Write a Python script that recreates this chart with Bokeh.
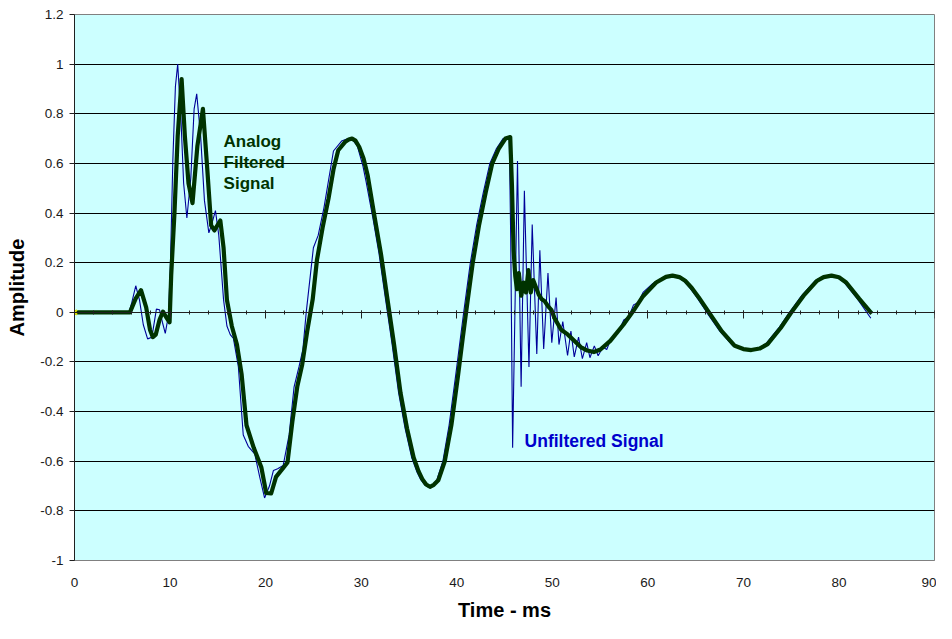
from bokeh.plotting import figure
from bokeh.models import Range1d, LinearAxis, SingleIntervalTicker, FixedTicker
from bokeh.core.properties import value
from bokeh.embed import file_html
from bokeh.resources import INLINE

# ---------------- data ----------------
# Analog filtered signal (thick green)
filt_t = [0, 5.8, 6.4, 6.96, 7.5, 7.9, 8.2, 8.5, 8.9, 9.26, 9.6, 9.95, 10.12, 10.46, 10.8,
          11.21, 11.55, 11.93, 12.35, 12.86, 13.44, 13.89, 14.3, 14.64, 15.26, 15.6, 15.95,
          16.46, 17.0, 17.49, 18.0, 18.76, 19.55, 20.06, 20.58, 21.09, 21.78, 22.29, 22.8,
          23.32, 23.83, 24.35, 24.93, 25.37, 25.96, 26.58, 27.1, 27.6, 28.3, 28.7, 29.05,
          29.4, 29.8, 30.25, 30.69, 31.38, 32.07, 32.75, 33.44, 34.12, 34.8, 35.49, 36.0,
          36.4, 36.8, 37.2, 37.6, 38.07, 38.75, 39.44, 40.12, 40.64, 40.98, 41.67, 42.35,
          43.04, 43.72, 44.41, 45.1, 45.6, 45.78, 45.95, 46.13, 46.3, 46.5, 46.75, 47.0,
          47.25, 47.5, 47.75, 48.0, 48.3, 48.6, 48.87, 49.2, 49.55, 49.9, 50.24, 50.93,
          51.61, 52.3, 52.98, 53.67, 54.35, 55.04, 56.07, 57.44, 58.47, 59.5, 60.87, 61.9,
          62.58, 63.3, 63.95, 64.6, 65.33, 66.36, 67.73, 69.1, 70.0, 70.82, 71.7, 72.53,
          73.9, 74.93, 76.3, 77.67, 78.4, 79.22, 80.0, 80.76, 82.13, 83.44]
filt_v = [0, 0, 0.055, 0.089, 0.02, -0.07, -0.10, -0.09, -0.03, 0.003, -0.02, -0.04, 0.15,
          0.40, 0.71, 0.94, 0.71, 0.52, 0.44, 0.67, 0.82, 0.58, 0.35, 0.33, 0.37, 0.26, 0.05,
          -0.055, -0.13, -0.25, -0.455, -0.546, -0.624, -0.728, -0.73, -0.663, -0.63, -0.605,
          -0.44, -0.298, -0.21, -0.077, 0.053, 0.21, 0.34, 0.458, 0.575, 0.653, 0.686, 0.696,
          0.70, 0.692, 0.666, 0.62, 0.55, 0.39, 0.236, 0.053, -0.129, -0.325, -0.468, -0.585,
          -0.64, -0.672, -0.694, -0.703, -0.695, -0.677, -0.60, -0.455, -0.26, -0.10, 0.0,
          0.198, 0.354, 0.484, 0.60, 0.66, 0.70, 0.706, 0.51, 0.25, 0.145, 0.093, 0.158,
          0.067, 0.12, 0.08, 0.17, 0.08, 0.13, 0.10, 0.07, 0.054, 0.045, 0.025, 0.01,
          -0.024, -0.07, -0.089, -0.115, -0.14, -0.154, -0.16, -0.15, -0.115, -0.05, 0.005,
          0.065, 0.12, 0.143, 0.148, 0.142, 0.126, 0.098, 0.06, 0.002, -0.076, -0.135,
          -0.148, -0.152, -0.146, -0.128, -0.063, -0.005, 0.067, 0.126, 0.142, 0.148, 0.141,
          0.12, 0.054, -0.005]

# Unfiltered signal (thin blue)
raw_t = [0, 5.7, 6.0, 6.41, 6.8, 7.2, 7.65, 8.1, 8.57, 8.9, 9.2, 9.5, 9.84, 10.05, 10.29,
         10.56, 10.8, 11.14, 11.42, 11.76, 12.17, 12.52, 12.79, 13.2, 13.6, 14.06, 14.4,
         14.75, 15.1, 15.6, 15.95, 16.3, 16.63, 17.15, 17.66, 18.18, 18.86, 19.38, 19.89,
         20.4, 20.82, 21.26, 21.84, 22.46, 22.98, 23.49, 23.9, 24.25, 25.0, 25.5, 26.1, 27.1,
         27.95, 28.5, 29.0, 29.6, 30.18, 30.5, 31.18, 31.87, 32.55, 33.24, 33.92, 34.6,
         35.29, 35.8, 36.2, 36.65, 37.05, 37.45, 37.9, 38.55, 39.2, 39.87, 40.4, 40.73,
         41.42, 42.1, 42.79, 43.47, 44.16, 44.85, 45.5, 45.65, 45.85, 46.36, 46.74, 47.08,
         47.56, 47.9, 48.38, 48.7, 49.1, 49.55, 49.95, 50.4, 50.7, 51.1, 51.6, 51.95, 52.3,
         52.75, 53.15, 53.6, 53.94, 54.4, 54.8, 55.3, 55.7, 56.1, 56.5, 57.0, 57.5, 58.0,
         58.5, 59.0, 59.5, 60.5, 61.7, 62.4, 63.1, 63.75, 64.4, 65.13, 66.16, 67.53, 68.9,
         69.8, 70.62, 71.5, 72.33, 73.7, 74.73, 76.1, 77.47, 78.2, 79.0, 79.8, 80.56, 81.93,
         83.34]
raw_v = [0, 0, 0.04, 0.107, 0.05, -0.05, -0.107, -0.10, 0.013, 0.01, -0.04, -0.085, -0.01,
         0.21, 0.61, 0.91, 1.0, 0.78, 0.52, 0.38, 0.54, 0.82, 0.88, 0.71, 0.45, 0.32, 0.36,
         0.41, 0.31, 0.05, -0.055, -0.09, -0.105, -0.22, -0.494, -0.54, -0.57, -0.663,
         -0.748, -0.70, -0.637, -0.63, -0.617, -0.494, -0.30, -0.22, -0.15, 0.0, 0.26, 0.31,
         0.42, 0.65, 0.69, 0.698, 0.70, 0.67, 0.59, 0.53, 0.39, 0.236, 0.053, -0.129, -0.325,
         -0.468, -0.585, -0.64, -0.672, -0.695, -0.705, -0.696, -0.677, -0.60, -0.455, -0.26,
         -0.10, 0.0, 0.198, 0.354, 0.484, 0.60, 0.66, 0.70, 0.706, 0.30, -0.546, 0.61,
         -0.30, 0.49, -0.22, 0.354, -0.168, 0.25, -0.148, 0.158, -0.122, 0.06, -0.13,
         -0.037, -0.174, -0.076, -0.18, -0.10, -0.187, -0.122, -0.183, -0.135, -0.175,
         -0.14, -0.15, -0.11, -0.09, -0.07, -0.03, -0.02, 0.03, 0.04, 0.08, 0.115, 0.143,
         0.15, 0.142, 0.126, 0.098, 0.06, 0.0, -0.076, -0.135, -0.148, -0.153, -0.146,
         -0.128, -0.063, -0.005, 0.067, 0.126, 0.142, 0.148, 0.141, 0.12, 0.054, -0.024]

start_t = [0]
start_v = [0]

y_ticks = [-1, -0.8, -0.6, -0.4, -0.2, 0, 0.2, 0.4, 0.6, 0.8, 1, 1.2]
y_tick_labels = ["-1", "-0.8", "-0.6", "-0.4", "-0.2", "0", "0.2", "0.4", "0.6", "0.8", "1", "1.2"]
y_grid_ticks = [-0.8, -0.6, -0.4, -0.2, 0, 0.2, 0.4, 0.6, 0.8, 1, 1.2]

green_lines = ["Analog", "Filtered", "Signal"]
green_x = [15.6, 15.6, 15.6]
green_y = [0.689, 0.605, 0.521]
blue_text = ["Unfiltered Signal"]
blue_x = [47.1]
blue_y = [-0.517]

# ---------------- figure ----------------
p = figure(width=936, height=623, output_backend="svg", toolbar_location=None,
           x_range=Range1d(0, 90), y_range=Range1d(-1, 1.2),
           min_border_left=74, min_border_right=2, min_border_top=14, min_border_bottom=61)
p.background_fill_color = "#CCFFFF"
p.border_fill_color = "white"
p.outline_line_color = "#808080"
p.outline_line_width = 1

# grid
p.xgrid.visible = False
p.ygrid.ticker = FixedTicker(ticks=y_grid_ticks)
p.ygrid.grid_line_color = "black"
p.ygrid.grid_line_width = 1

# y axis
p.yaxis.ticker = FixedTicker(ticks=y_ticks)
p.yaxis.major_label_overrides = {float(k): s for k, s in zip(y_ticks, y_tick_labels)}
p.yaxis.axis_label = "Amplitude"
p.yaxis.axis_label_text_font = "Liberation Sans"
p.yaxis.axis_label_text_font_style = "bold"
p.yaxis.axis_label_text_font_size = "20px"
p.yaxis.axis_label_text_color = "black"
p.yaxis.axis_label_standoff = 9
p.yaxis.major_label_text_font = "Liberation Sans"
p.yaxis.major_label_text_font_size = "13.5px"
p.yaxis.major_label_text_color = "#1a1a1a"
p.yaxis.major_label_standoff = 6
p.yaxis.major_tick_out = 5
p.yaxis.major_tick_in = 0
p.yaxis.minor_tick_line_color = None
p.yaxis.axis_line_color = "#202020"
p.yaxis.major_tick_line_color = "#202020"

# x axis (labels at the bottom)
p.xaxis.ticker = SingleIntervalTicker(interval=10, num_minor_ticks=5)
p.xaxis.axis_label = "Time - ms"
p.xaxis.axis_label_text_font = "Liberation Sans"
p.xaxis.axis_label_text_font_style = "bold"
p.xaxis.axis_label_text_font_size = "20px"
p.xaxis.axis_label_text_color = "black"
p.xaxis.axis_label_standoff = 9
p.xaxis.major_label_text_font = "Liberation Sans"
p.xaxis.major_label_text_font_size = "13.5px"
p.xaxis.major_label_text_color = "#1a1a1a"
p.xaxis.major_label_standoff = 11
p.xaxis.major_tick_line_color = None
p.xaxis.minor_tick_line_color = None
p.xaxis.axis_line_color = "#808080"

# x axis crossing at zero (ticks only)
zero_axis = LinearAxis(fixed_location=0, ticker=SingleIntervalTicker(interval=10, num_minor_ticks=5))
zero_axis.major_label_text_color = None
zero_axis.major_label_text_font_size = "0px"
zero_axis.axis_line_color = "#202020"
zero_axis.major_tick_line_color = "#202020"
zero_axis.minor_tick_line_color = "#202020"
zero_axis.major_tick_out = 6
zero_axis.major_tick_in = 2
zero_axis.minor_tick_out = 2
zero_axis.minor_tick_in = 2
p.add_layout(zero_axis, "below")

# series
p.line(raw_t, raw_v, line_color="#000099", line_width=1.1)
p.line(filt_t, filt_v, line_color="#003300", line_width=4.2, line_join="round")
p.scatter(start_t, start_v, marker="x", size=7, line_color="#E8E800", line_width=2)

# annotations
p.text(green_x, green_y, text=green_lines, text_font=value("Liberation Sans"),
       text_font_style="bold", text_font_size="17px", text_color="#003300",
       text_baseline="alphabetic", text_align="left")
p.text(blue_x, blue_y, text=blue_text, text_font=value("Liberation Sans"),
       text_font_style="bold", text_font_size="17.5px", text_color="#0000CC",
       text_baseline="alphabetic", text_align="left")

open("out.html", "w").write(file_html(p, INLINE))
